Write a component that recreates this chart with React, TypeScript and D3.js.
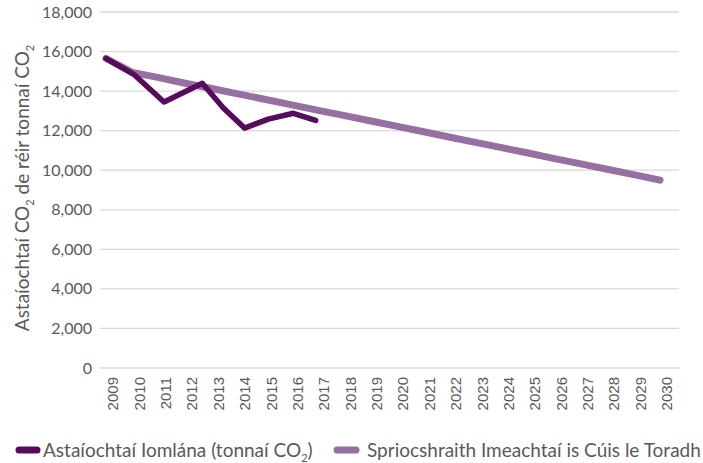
import React from "react";
import * as d3 from "d3";

const years = [2009,2010,2011,2012,2013,2014,2015,2016,2017,2018,2019,2020,2021,2022,2023,2024,2025,2026,2027,2028,2029,2030];
const yTicks = [0,2000,4000,6000,8000,10000,12000,14000,16000,18000];

const actualYears = [2009, 2010.05, 2011.2, 2012.65, 2013.45, 2014.25, 2015.15, 2016.1, 2016.95];
const actualValues = [15650, 14850, 13450, 14400, 13150, 12130, 12580, 12880, 12520];

// Spriocshraith (target trajectory)
const targetYears = years;
const targetValues = [15650,14950,14680,14400,14130,13860,13590,13320,13040,12770,12500,12230,11960,11680,11410,11140,10870,10590,10320,10050,9780,9500];

const W = 703, H = 463;
const FONT = "Lato, 'Noto Sans', sans-serif";
const GREY = "#595959";
const DARK = "#560b5c";
const LIGHT = "#9570a0";

export default function App() {
  const x = d3.scaleLinear().domain([2009, 2030]).range([106, 660]);
  const y = d3.scaleLinear().domain([0, 18000]).range([368, 12]);
  const fmt = d3.format(",");
  const line = d3.line<[number, number]>().x(d => x(d[0])).y(d => y(d[1]));
  const actual = actualYears.map((yr, i) => [yr, actualValues[i]] as [number, number]);
  const target = targetYears.map((yr, i) => [yr, targetValues[i]] as [number, number]);

  return (
    <svg width={W} height={H} style={{ position: "absolute", left: 0, top: 0, background: "#fff" }}>
      {yTicks.map(t => (
        <g key={t}>
          <line x1={100} x2={679} y1={y(t)} y2={y(t)} stroke="#d9d9d9" strokeWidth={1.3} />
          <text x={92} y={y(t)} dy="0.35em" textAnchor="end" fontFamily={FONT} fontSize={16} fill={GREY}>{fmt(t)}</text>
        </g>
      ))}
      {years.map(yr => (
        <text key={yr} transform={`translate(${x(yr) + 7},${377}) rotate(-90)`} textAnchor="end" dy="0.35em"
          fontFamily="'Liberation Sans', Arial, sans-serif" fontSize={15} fill={GREY}>{yr}</text>
      ))}
      <text transform={`translate(22,188) rotate(-90)`} textAnchor="middle" dy="0.35em" fontFamily={FONT} fontSize={19} fill={GREY}>
        Astaíochtaí CO<tspan fontSize={11} dy={5}>2</tspan><tspan dy={-5}> de réir tonnaí CO</tspan><tspan fontSize={11} dy={5}>2</tspan>
      </text>
      <path d={line(target) || ""} fill="none" stroke={LIGHT} strokeWidth={7} strokeLinecap="round" strokeLinejoin="round" />
      <path d={line(actual) || ""} fill="none" stroke={DARK} strokeWidth={5.5} strokeLinecap="round" strokeLinejoin="round" />
      <g>
        <line x1={19} x2={37} y1={450} y2={450} stroke={DARK} strokeWidth={7} strokeLinecap="round" />
        <text x={43} y={450} dy="0.35em" fontFamily={FONT} fontSize={19} fill={GREY}>
          Astaíochtaí Iomlána (tonnaí CO<tspan fontSize={11} dy={5}>2</tspan><tspan dy={-5}>)</tspan>
        </text>
        <line x1={337} x2={356} y1={450} y2={450} stroke={LIGHT} strokeWidth={7} strokeLinecap="round" />
        <text x={367} y={450} dy="0.35em" fontFamily={FONT} fontSize={19} fill={GREY}>Spriocshraith Imeachtaí is Cúis le Toradh</text>
      </g>
    </svg>
  );
}
